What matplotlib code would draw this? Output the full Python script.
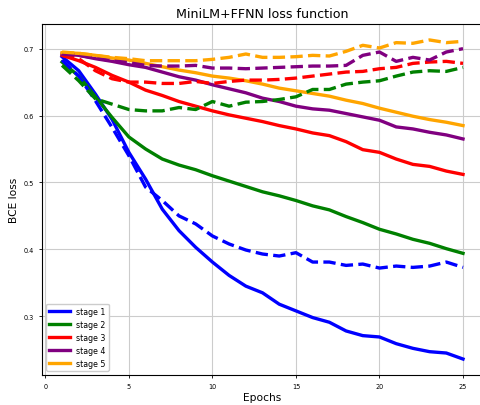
import matplotlib
matplotlib.use('Agg')
import numpy as np
import matplotlib.pyplot as plt

epochs = list(range(1, 26))

# solid lines (first run)
stage1 = [0.688, 0.667, 0.632, 0.594, 0.545, 0.505, 0.460, 0.428, 0.403, 0.381,
          0.361, 0.345, 0.335, 0.318, 0.308, 0.298, 0.291, 0.278, 0.271, 0.269,
          0.259, 0.252, 0.247, 0.245, 0.236]
stage2 = [0.680, 0.659, 0.628, 0.597, 0.568, 0.550, 0.535, 0.526, 0.519, 0.510,
          0.502, 0.494, 0.486, 0.480, 0.473, 0.465, 0.459, 0.449, 0.440, 0.430,
          0.423, 0.415, 0.409, 0.401, 0.394]
stage3 = [0.690, 0.682, 0.672, 0.660, 0.650, 0.638, 0.630, 0.621, 0.614, 0.607,
          0.601, 0.596, 0.591, 0.585, 0.580, 0.574, 0.570, 0.561, 0.549, 0.545,
          0.535, 0.527, 0.524, 0.517, 0.512]
stage4 = [0.692, 0.690, 0.685, 0.681, 0.676, 0.672, 0.665, 0.658, 0.653, 0.646,
          0.640, 0.634, 0.626, 0.621, 0.614, 0.610, 0.608, 0.603, 0.598, 0.593,
          0.583, 0.580, 0.575, 0.571, 0.565]
stage5 = [0.694, 0.693, 0.690, 0.686, 0.683, 0.678, 0.673, 0.668, 0.664, 0.659,
          0.656, 0.652, 0.647, 0.641, 0.637, 0.633, 0.629, 0.623, 0.618, 0.611,
          0.605, 0.599, 0.594, 0.590, 0.585]

# dashed lines (second run)
stage1_d = [0.683, 0.659, 0.622, 0.582, 0.540, 0.493, 0.473, 0.450, 0.438, 0.420,
            0.408, 0.399, 0.393, 0.390, 0.395, 0.381, 0.381, 0.376, 0.378, 0.372,
            0.375, 0.373, 0.375, 0.381, 0.373]
stage2_d = [0.675, 0.652, 0.625, 0.617, 0.609, 0.607, 0.607, 0.612, 0.609, 0.621,
            0.614, 0.620, 0.621, 0.624, 0.628, 0.639, 0.639, 0.647, 0.650, 0.652,
            0.659, 0.665, 0.667, 0.666, 0.672]
stage3_d = [0.690, 0.685, 0.667, 0.655, 0.650, 0.650, 0.648, 0.648, 0.651, 0.648,
            0.651, 0.653, 0.653, 0.654, 0.656, 0.659, 0.662, 0.665, 0.666, 0.670,
            0.672, 0.678, 0.680, 0.681, 0.678]
stage4_d = [0.692, 0.690, 0.686, 0.682, 0.679, 0.675, 0.674, 0.674, 0.675, 0.671,
            0.671, 0.670, 0.671, 0.672, 0.673, 0.674, 0.674, 0.675, 0.690, 0.695,
            0.681, 0.687, 0.683, 0.695, 0.700]
stage5_d = [0.695, 0.693, 0.690, 0.687, 0.685, 0.682, 0.682, 0.682, 0.682, 0.684,
            0.687, 0.692, 0.687, 0.687, 0.688, 0.690, 0.689, 0.696, 0.705, 0.701,
            0.709, 0.708, 0.713, 0.709, 0.711]

labels = ['stage 1', 'stage 2', 'stage 3', 'stage 4', 'stage 5']
colors = ['blue', 'green', 'red', 'purple', 'orange']
solid = [stage1, stage2, stage3, stage4, stage5]
dashed = [stage1_d, stage2_d, stage3_d, stage4_d, stage5_d]

fig = plt.figure(figsize=(4.81, 4.06), dpi=100)
ax = fig.add_axes([0.0873, 0.0739, 0.917, 0.8645])

lw = 2.4
for vals, c, lab in zip(solid, colors, labels):
    ax.plot(epochs, vals, color=c, linewidth=lw, label=lab)
for vals, c in zip(dashed, colors):
    ax.plot(epochs, vals, color=c, linewidth=lw, linestyle='--')

ax.set_xticks([0, 5, 10, 15, 20, 25])
ax.set_yticks([0.3, 0.4, 0.5, 0.6, 0.7])
ax.tick_params(labelsize=4.7, length=2.5, width=0.6)
ax.grid(True, color='#cccccc', linewidth=0.8)
ax.set_xlabel('Epochs', fontsize=7.7, labelpad=2)
ax.set_ylabel('BCE loss', fontsize=7.7, labelpad=3)
ax.set_title('MiniLM+FFNN loss function', fontsize=9.1, pad=5)
ax.legend(loc='lower left', fontsize=5.7, handlelength=2.6, framealpha=1)

plt.savefig('out.png', dpi=100)
